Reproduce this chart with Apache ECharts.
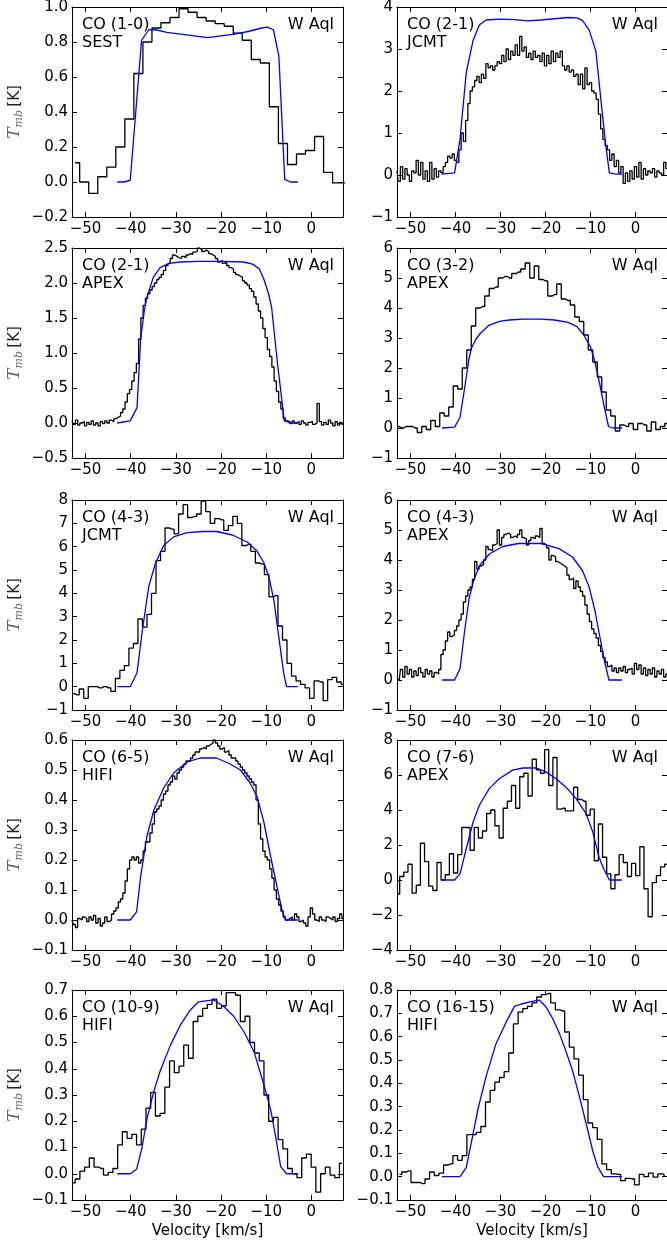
<!DOCTYPE html>
<html>
<head>
<meta charset="utf-8">
<script src="https://cdn.jsdelivr.net/npm/echarts@6/dist/echarts.min.js"></script>
<style>
  html, body { margin: 0; padding: 0; background: #fff; }
  #chart { width: 667px; height: 1245px; }
</style>
</head>
<body>
<div id="chart"></div>
<script>
// Velocity axis (km/s), shared by every panel
const velRange = [-53, 7];
const velTicks = [-50, -40, -30, -20, -10, 0];

// Panel annotations
const transitions = ['CO (1-0)', 'CO (2-1)', 'CO (2-1)', 'CO (3-2)', 'CO (4-3)',
                     'CO (4-3)', 'CO (6-5)', 'CO (7-6)', 'CO (10-9)', 'CO (16-15)'];
const telescopes = ['SEST', 'JCMT', 'APEX', 'APEX', 'JCMT', 'APEX', 'HIFI', 'APEX', 'HIFI', 'HIFI'];
const sourceName = 'W Aql';

// Tmb axis ranges, tick steps and label decimals
const tmbMin = [-0.2, -1, -0.5, -1, -1, -1, -0.1, -4, -0.1, -0.1];
const tmbMax = [1.0, 4, 2.5, 6, 8, 6, 0.6, 8, 0.7, 0.8];
const tmbStep = [0.2, 1, 0.5, 1, 1, 1, 0.1, 2, 0.1, 0.1];
const tmbDecimals = [1, 0, 1, 0, 0, 0, 1, 0, 1, 1];

// Observed spectra: centre of first channel, channel width (km/s), Tmb per channel (K)
const obsStart = [-52.3, -53, -53, -53, -52.9, -53, -53, -52.86, -52.82, -52.48];
const obsWidth = [2.0, 0.5, 0.5, 1.0, 1.0, 0.5, 0.5, 0.92, 1.045, 1.035];

const obsCO10sest = [0.11, 0.0, -0.065, 0.03, 0.085, 0.2, 0.36, 0.62, 0.80, 0.88, 0.91, 0.94, 0.99, 0.97,
  0.94, 0.92, 0.905, 0.89, 0.85, 0.81, 0.70, 0.68, 0.43, 0.22, 0.10, 0.16, 0.18, 0.26, 0.055, -0.005, -0.005];

const obsCO21jcmt = [0.1, -0.15, 0.2, -0.1, 0.15, 0.0, -0.15, 0.1, 0.05, 0.35, 0.0, 0.3, -0.1, 0.1, -0.15, 0.3, -0.1, 0.15, -0.05, 0.1,
  0.05, 0.2, 0.3, 0.45, 0.4, 0.5, 0.35, 0.3, 0.6, 1.0,
  0.8, 1.3, 1.7, 2.0, 2.1, 2.25, 2.35, 2.2, 2.4, 2.3, 2.65, 2.55, 2.6, 2.5, 2.6, 2.7, 2.65,
  2.85, 2.7, 3.0, 2.75, 2.95, 2.85, 3.1, 2.85, 3.3, 2.95, 3.05, 2.8, 2.9, 2.75, 2.95, 2.8, 2.85, 2.7, 2.9, 2.6,
  2.85, 2.65, 2.95, 2.7, 2.9, 2.8, 2.95, 2.6, 2.5, 2.6, 2.45, 2.5, 2.35, 2.4, 2.15, 2.4, 2.05, 2.55, 2.15, 2.2,
  2.0, 1.95, 1.8, 1.45, 1.1, 0.85, 0.7, 0.6, 0.35, 0.5, 0.2, 0.35, 0.05, 0.2, -0.2, 0.05, -0.15, 0.1, -0.1, 0.2,
  -0.05, 0.3, -0.1, 0.15, 0.0, 0.1, 0.05, 0.15, -0.05, 0.1, 0.05, 0.0, 0.3, 0.15];

const obsCO21apex = [0.03, -0.02, 0.04, -0.03, 0.0, 0.02, -0.04, 0.01, -0.02, 0.03, -0.03, 0.0, -0.04, 0.02, -0.01, 0.03, 0.0, 0.04, 0.02, 0.06,
  0.08, 0.1, 0.15, 0.2, 0.3, 0.42, 0.48, 0.6, 0.72, 0.85,
  1.2, 1.5, 1.68, 1.78, 1.85, 1.9, 1.95, 2.0, 2.05, 2.08, 2.12, 2.18, 2.25, 2.28, 2.35, 2.4, 2.38,
  2.36, 2.35, 2.38, 2.36, 2.4, 2.42, 2.41, 2.44, 2.45, 2.5, 2.48, 2.45, 2.47, 2.45, 2.42, 2.4, 2.38, 2.35, 2.3, 2.32,
  2.28, 2.3, 2.25, 2.22, 2.2, 2.15, 2.12, 2.1, 2.08, 2.03, 2.0, 1.97, 1.92, 1.88, 1.8, 1.7, 1.6, 1.5, 1.35, 1.22,
  1.05, 0.95, 0.8, 0.6, 0.45, 0.3, 0.2, 0.07, 0.03, 0.02, -0.01, 0.03, 0.0, 0.02, -0.02, 0.03, 0.0, -0.03, 0.01, 0.02,
  -0.02, 0.0, 0.28, 0.02, -0.03, 0.01, -0.02, 0.04, 0.0, -0.04, 0.02, -0.03, 0.01, -0.02];

const obsCO32apex = [0.05, 0.0, 0.05, 0.05, 0.0, -0.15, 0.05, -0.05, 0.25, 0.05,
  0.5, 0.4, 0.7, 1.4, 1.3, 2.0, 2.6, 3.4, 4.0, 4.05,
  4.4, 4.65, 4.7, 5.0, 5.05, 5.0, 5.15, 5.2, 5.3, 5.5,
  5.0, 5.4, 4.95, 4.9, 4.4, 4.45, 4.8, 4.3, 4.25, 4.1,
  3.7, 3.55, 3.1, 2.6, 2.2, 1.7, 1.2, 0.6, 0.4, -0.1,
  0.1, 0.05, 0.15, -0.05, 0.15, 0.1, -0.1, 0.2, -0.05, 0.05, 0.15];

const obsCO43jcmt = [-0.3, -0.35, -0.1, -0.5, 0.0, 0.0, -0.05, 0.0, -0.05, -0.2,
  0.35, 0.7, 0.9, 1.65, 1.85, 2.9, 2.55, 3.1, 4.0, 5.4, 5.8, 6.8, 6.75, 6.55, 7.4, 7.8, 7.25, 7.3, 7.4, 7.95,
  7.5, 7.0, 7.2, 7.15, 6.7, 6.9, 7.3, 7.0, 6.05, 6.1, 5.8, 5.3, 5.25, 4.8, 3.85, 3.9, 2.6, 2.0, 1.0, 0.45,
  0.25, 0.1, -0.05, -0.5, 0.25, 0.2, -0.6, 0.3, 0.4, 0.2, 0.1];

const obsCO43apex = [0.05, 0.0, 0.35, 0.1, 0.45, 0.2, 0.35, 0.1, 0.3, 0.15, 0.4, 0.25, 0.1, 0.35, 0.2, 0.3, 0.1, 0.25, 0.2, 0.35,
  0.85, 1.0, 1.3, 1.6, 1.45, 1.5, 1.65, 1.8, 2.0, 2.2,
  2.6, 2.8, 3.0, 3.1, 3.35, 3.95, 3.7, 3.8, 3.85, 4.0, 4.45, 4.35, 4.3, 4.5, 4.55, 5.0, 4.5,
  4.75, 4.85, 4.9, 4.85, 4.75, 4.8, 4.75, 4.85, 5.0, 4.75, 4.7, 4.5, 4.65, 4.75, 4.7, 4.8, 4.75, 5.05, 4.55, 4.5,
  4.4, 4.0, 4.15, 4.1, 3.95, 3.9, 3.85, 3.8, 3.75, 3.5, 3.35, 3.4, 3.05, 3.3, 3.1, 2.95, 2.8, 2.5, 2.2, 1.95,
  1.7, 1.55, 1.4, 1.15, 0.95, 0.75, 0.6, 0.45, 0.5, 0.3, 0.4, 0.25, 0.4, 0.3, 0.45, 0.25, 0.35, 0.4, 0.2, 0.55,
  0.35, 0.5, 0.2, 0.4, 0.15, 0.35, 0.2, 0.4, 0.1, 0.3, 0.2, 0.35, 0.1, 0.2];

const obsCO65hifi = [0.0, -0.015, -0.025, 0.005, 0.0, 0.01, 0.005, -0.005, 0.01, 0.0, 0.015, -0.01, 0.005, -0.02, -0.01, 0.01, -0.005, 0.0, 0.02, 0.03,
  0.04, 0.06, 0.07, 0.09, 0.13, 0.17, 0.2, 0.21, 0.2, 0.21,
  0.19, 0.2, 0.23, 0.26, 0.26, 0.29, 0.32, 0.36, 0.37, 0.38, 0.4, 0.42, 0.43, 0.45, 0.46, 0.48, 0.47,
  0.49, 0.5, 0.51, 0.52, 0.53, 0.53, 0.54, 0.55, 0.56, 0.56, 0.57, 0.575, 0.57, 0.58, 0.585, 0.59, 0.6, 0.59, 0.58, 0.57,
  0.575, 0.56, 0.565, 0.55, 0.54, 0.54, 0.53, 0.52, 0.51, 0.5, 0.49, 0.48, 0.47, 0.46, 0.45, 0.4, 0.32, 0.27, 0.23, 0.21,
  0.2, 0.17, 0.14, 0.1, 0.07, 0.05, 0.03, 0.01, 0.0, 0.005, 0.01, 0.0, 0.02, 0.01, -0.005, 0.0, -0.01, -0.02, 0.01, 0.04,
  0.02, 0.0, -0.005, 0.01, 0.0, -0.005, 0.01, 0.005, 0.0, 0.01, -0.005, 0.005, 0.02, 0.005];

const obsCO76apex = [-0.8, 0.2, 0.45, 0.9, -0.75, -0.3, 2.1, 1.05, -0.35, -0.6, 1.0, 0.0, 0.3, 1.5, 0.4, 1.45,
  3.0, 3.0, 1.7, 3.0, 2.4, 2.8, 3.8, 4.0, 3.1, 2.4, 4.1, 4.5, 5.4, 4.1, 5.9, 6.1, 4.8, 6.9, 6.3, 6.1, 7.45,
  5.4, 7.0, 4.05, 4.1, 3.95, 3.95, 5.3, 4.6, 4.5, 3.7, 4.05, 1.1, 3.2, 1.3, 0.35, -0.5, 0.3, 1.45, 1.0, 0.2,
  0.95, 0.25, 1.9, -0.5, -2.1, -0.15, 0.25, 0.75, 0.9];

const obsCO109hifi = [-0.035, -0.02, 0.01, 0.025, 0.06, 0.025, 0.02, -0.005, 0.005, 0.02,
  0.11, 0.16, 0.135, 0.15, 0.11, 0.17, 0.25, 0.31, 0.22, 0.23,
  0.33, 0.43, 0.385, 0.41, 0.49, 0.44, 0.58, 0.6, 0.63, 0.645,
  0.665, 0.63, 0.64, 0.69, 0.69, 0.68, 0.58, 0.6, 0.5, 0.46,
  0.43, 0.3, 0.2, 0.215, 0.13, 0.095, 0.02, 0.0, -0.015, 0.06,
  0.075, 0.025, -0.07, 0.0, 0.025, -0.005, -0.015, 0.04];

const obsCO1615hifi = [0.01, 0.02, 0.025, -0.025, -0.025, -0.03, -0.01, 0.02, 0.005, 0.015,
  0.05, 0.055, 0.09, 0.07, 0.09, 0.18, 0.18, 0.19, 0.215, 0.32,
  0.37, 0.405, 0.425, 0.45, 0.53, 0.655, 0.705, 0.72, 0.73, 0.745,
  0.77, 0.78, 0.785, 0.745, 0.715, 0.71, 0.62, 0.555, 0.505, 0.435,
  0.33, 0.23, 0.21, 0.16, 0.055, 0.03, 0.012, 0.01, -0.017, -0.007,
  -0.01, -0.035, 0.01, 0.0, 0.015, -0.002, 0.012, 0.005];

// Model line profiles: [velocity km/s, Tmb K]
const modelCO10sest = [[-43,0],[-41.5,0],[-40.1,0.01],[-37.6,0.81],[-36,0.87],[-34.5,0.87],[-32,0.855],[-29,0.845],
  [-26,0.835],[-23,0.825],[-20,0.835],[-17,0.845],[-14,0.86],[-11,0.88],[-9.8,0.885],[-8.4,0.87],[-7.2,0.72],
  [-5.9,0.015],[-4.6,0],[-3,0]];
const modelCO21jcmt = [[-43,0.02],[-40.2,0.05],[-39,0.85],[-37.6,2.45],[-36.1,3.2],[-34.7,3.57],[-33.2,3.69],[-30,3.71],
  [-27,3.7],[-24,3.67],[-21,3.69],[-18,3.72],[-15,3.75],[-13,3.74],[-11.8,3.68],[-10.3,3.45],[-8.8,2.95],[-7.7,1.8],
  [-6.6,0.7],[-5.8,0.05],[-4.4,0.02],[-3,0.02]];
const modelCO21apex = [[-43,0],[-40.1,0.03],[-38.6,0.22],[-37.8,1.2],[-37,1.6],[-36.4,1.8],[-35,2.08],[-33.5,2.22],
  [-31.5,2.28],[-29,2.3],[-25,2.31],[-20,2.31],[-15,2.3],[-13,2.27],[-11.5,2.2],[-10.5,2.05],[-9.5,1.85],[-8.8,1.65],
  [-7.5,0.85],[-6,0.03],[-4.6,0],[-3,0]];
const modelCO32apex = [[-43,0],[-40.2,0.03],[-39,0.35],[-38,1.3],[-37,2.3],[-36.5,2.65],[-35.5,2.95],[-34.5,3.15],
  [-32.5,3.43],[-30,3.56],[-28,3.6],[-25,3.63],[-21,3.63],[-18,3.6],[-15,3.52],[-13,3.38],[-11.5,3.1],[-10,2.7],
  [-9,2.2],[-8,1.5],[-7,0.75],[-6,0.05],[-5,0],[-3,0]];
const modelCO43jcmt = [[-43,0],[-40.1,0],[-38.6,0.6],[-37.5,2.3],[-36,4.3],[-34.5,5.3],[-32.7,6.05],[-30.5,6.42],
  [-27.5,6.6],[-24,6.65],[-21,6.65],[-17.5,6.5],[-14.2,6.2],[-12,5.8],[-10.5,5.3],[-9.4,4.7],[-8.3,3.7],[-7.2,2.1],
  [-6.1,0.55],[-5.5,0],[-3,0]];
const modelCO43apex = [[-43,0],[-40.2,0],[-39,0.37],[-38,1.6],[-37,2.7],[-36,3.3],[-34.7,3.8],[-32.5,4.2],[-29.5,4.45],
  [-26,4.55],[-21,4.55],[-17,4.38],[-14,4.1],[-11.8,3.65],[-10.3,3.1],[-9,2.3],[-8,1.5],[-7,0.7],[-5.9,0],[-3,0]];
const modelCO65hifi = [[-43,0],[-40.1,0],[-38.7,0.027],[-37.8,0.145],[-36.4,0.28],[-34.9,0.365],[-32.7,0.44],
  [-30.5,0.49],[-27.5,0.527],[-24.6,0.54],[-21,0.54],[-18,0.52],[-15.7,0.5],[-13.5,0.455],[-12,0.41],[-10.5,0.325],
  [-9,0.21],[-7.6,0.11],[-6.5,0.033],[-5.7,0],[-3,0]];
const modelCO76apex = [[-43,0],[-40.2,0],[-39,0.35],[-37.6,1.8],[-36.1,3.3],[-34.7,4.27],[-32.5,5.22],[-30.2,5.8],
  [-27.3,6.28],[-25,6.4],[-22,6.4],[-19.9,6.18],[-17.7,5.8],[-15.5,5.32],[-13.2,4.65],[-11,3.8],[-9.5,2.75],
  [-8.1,1.3],[-7,0.6],[-5.8,0],[-3,0]];
const modelCO109hifi = [[-43,0],[-40.1,0],[-38.7,0.017],[-37.5,0.1],[-36.4,0.21],[-34.9,0.313],[-33.4,0.395],
  [-31.2,0.49],[-29,0.567],[-26.8,0.624],[-25,0.655],[-21.6,0.662],[-19.4,0.637],[-17.2,0.6],[-14.9,0.54],
  [-12.7,0.465],[-10.5,0.338],[-9,0.243],[-7.9,0.14],[-6.8,0.027],[-5.5,0],[-3,0]];
const modelCO1615hifi = [[-43,0],[-39,0],[-37.6,0.04],[-36.5,0.145],[-35,0.29],[-33.2,0.43],[-31,0.57],[-28.8,0.66],
  [-26.9,0.73],[-25.4,0.74],[-23.2,0.75],[-21.4,0.757],[-19.9,0.728],[-18.4,0.678],[-16.9,0.613],[-15.5,0.54],
  [-14,0.455],[-12.5,0.346],[-11,0.23],[-9.5,0.11],[-8.4,0.043],[-7.1,0],[-3,0]];

const observed = [obsCO10sest, obsCO21jcmt, obsCO21apex, obsCO32apex, obsCO43jcmt,
                  obsCO43apex, obsCO65hifi, obsCO76apex, obsCO109hifi, obsCO1615hifi];
const models = [modelCO10sest, modelCO21jcmt, modelCO21apex, modelCO32apex, modelCO43jcmt,
                modelCO43apex, modelCO65hifi, modelCO76apex, modelCO109hifi, modelCO1615hifi];

// Page layout: two columns, five rows of panels
const colLeft = [72, 397];
const colWidth = [271, 270];
const rowTop = [7, 248, 500, 740, 990];
const panelHeight = 210;

const FONT = '"DejaVu Sans", sans-serif';
const minus = s => s.replace('-', '\u2212');
const fmtNum = (v, d) => minus((Math.round(v * 1e6) / 1e6).toFixed(d));

const grids = [], xAxes = [], yAxes = [], series = [], texts = [];
const axisLine = { show: true, onZero: false, lineStyle: { color: '#000', width: 1 } };

for (let i = 0; i < 10; i++) {
  const col = i % 2, row = Math.floor(i / 2);
  const L = colLeft[col], W = colWidth[col], T = rowTop[row];
  grids.push({ left: L, top: T, width: W, height: panelHeight, outerBoundsMode: 'none', containLabel: false });

  const tick = { show: true, inside: true, length: 5, lineStyle: { color: '#000', width: 1 } };
  const xBottom = {
    gridIndex: i, type: 'value', position: 'bottom', min: velRange[0], max: velRange[1],
    axisLine: axisLine, splitLine: { show: false },
    axisTick: Object.assign({ customValues: velTicks }, tick),
    axisLabel: { show: true, customValues: velTicks, color: '#000', fontFamily: FONT, fontSize: 15, margin: 5,
                 formatter: v => minus(String(v)) }
  };
  if (row === 4) {
    Object.assign(xBottom, {
      name: 'Velocity [km/s]', nameLocation: 'middle', nameGap: 24,
      nameTextStyle: { color: '#000', fontFamily: FONT, fontSize: 15 }
    });
  }
  xAxes.push(xBottom);
  xAxes.push({
    gridIndex: i, type: 'value', position: 'top', min: velRange[0], max: velRange[1],
    axisLine: axisLine, splitLine: { show: false },
    axisTick: Object.assign({ customValues: velTicks }, tick),
    axisLabel: { show: false }
  });

  const yLeft = {
    gridIndex: i, type: 'value', position: 'left', min: tmbMin[i], max: tmbMax[i], interval: tmbStep[i],
    axisLine: axisLine, splitLine: { show: false }, axisTick: tick,
    axisLabel: { show: true, color: '#000', fontFamily: FONT, fontSize: 15, margin: 4,
                 formatter: (d => v => fmtNum(v, d))(tmbDecimals[i]) }
  };
  if (col === 0) {
    Object.assign(yLeft, {
      name: '{t|T}{s|mb} {k|[K]}', nameLocation: 'middle', nameGap: 47, nameRotate: 90,
      nameTextStyle: {
        rich: {
          t: { fontFamily: '"DejaVu Serif", serif', fontStyle: 'italic', fontSize: 17, color: '#666' },
          s: { fontFamily: '"DejaVu Serif", serif', fontStyle: 'italic', fontSize: 11, color: '#666', padding: [9, 0, 0, 0] },
          k: { fontFamily: FONT, fontSize: 15, color: '#222' }
        }
      }
    });
  }
  yAxes.push(yLeft);
  yAxes.push({
    gridIndex: i, type: 'value', position: 'right', min: tmbMin[i], max: tmbMax[i], interval: tmbStep[i],
    axisLine: axisLine, splitLine: { show: false }, axisTick: tick, axisLabel: { show: false }
  });

  series.push({
    type: 'line', xAxisIndex: 2 * i, yAxisIndex: 2 * i, step: 'middle', showSymbol: false, symbol: 'none',
    data: observed[i].map((t, k) => [obsStart[i] + k * obsWidth[i], t]),
    lineStyle: { color: '#000', width: 1.3 }, clip: true, z: 2
  });
  series.push({
    type: 'line', xAxisIndex: 2 * i, yAxisIndex: 2 * i, showSymbol: false, symbol: 'none',
    data: models[i], lineStyle: { color: '#0000ff', width: 1.3 }, clip: true, z: 3
  });

  const font = '16px ' + FONT;
  texts.push({ type: 'text', x: L + 10, y: T + 18, style: { text: transitions[i], font: font, fill: '#000', textVerticalAlign: 'middle' } });
  texts.push({ type: 'text', x: L + 10, y: T + 36, style: { text: telescopes[i], font: font, fill: '#000', textVerticalAlign: 'middle' } });
  texts.push({ type: 'text', x: L + W - 9, y: T + 18, style: { text: sourceName, font: font, fill: '#000', textAlign: 'right', textVerticalAlign: 'middle' } });
}

const chart = echarts.init(document.getElementById('chart'), null, { renderer: 'canvas', width: 667, height: 1245 });
chart.setOption({
  animation: false,
  backgroundColor: '#fff',
  grid: grids,
  xAxis: xAxes,
  yAxis: yAxes,
  series: series,
  graphic: texts
});
</script>
</body>
</html>
